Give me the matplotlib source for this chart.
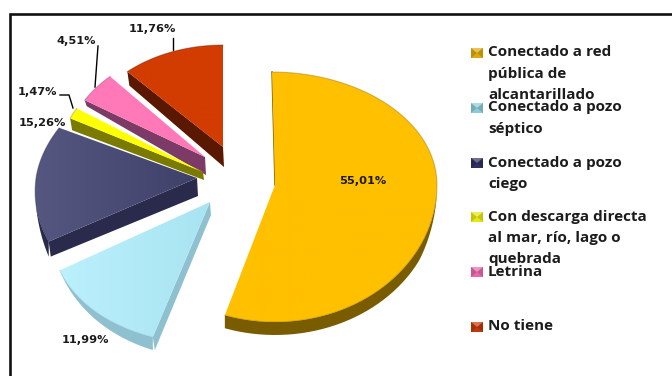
import numpy as np
import matplotlib
matplotlib.use('Agg')
import matplotlib.pyplot as plt
from matplotlib.colors import to_rgb
from matplotlib.patches import Polygon

# Share of dwellings by type of sanitary connection
categories = ['Conectado a red\npública de\nalcantarillado',
              'Conectado a pozo\nséptico',
              'Conectado a pozo\nciego',
              'Con descarga directa\nal mar, río, lago o\nquebrada',
              'Letrina',
              'No tiene']
values = [55.01, 11.99, 15.26, 1.47, 4.51, 11.76]
value_labels = ['55,01%', '11,99%', '15,26%', '1,47%', '4,51%', '11,76%']
# face colours run from the apex side to the far side of each slice
face_right = ['#ffc000', '#a9e4f2', '#3f4169', '#ffff00', '#ff78b8', '#d23c00']
face_left = ['#ffc000', '#bbf0fc', '#555781', '#ffff00', '#ff78b8', '#d23c00']
side_colors = ['#7a5c00', '#8fc0d0', '#2a2b4c', '#7a7a00', '#7c3a66', '#5a1800']
key_colors = ['#e0a810', '#8ccbd8', '#2f3160', '#e8e810', '#e868a8', '#c03808']

# apex x, apex y, a, a slope, b above centre, b below centre, depth at rim, depth at apex
slice_geom = [
    (275, 185, 162, 0, 113, 137, 13, 13),
    (210, 202, 158, 28, 140, 142, 13, 13),
    (197, 178, 161, 17, 114, 132, 15, 18),
    (203, 172, 148, 0, 122, 122, 12, 8),
    (205, 157, 141, 0, 109, 109, 6, 18),
    (223, 147, 142, 0, 102, 102, 14, 20),
]
# -cos(t) where the outer wall starts to show and where it reaches full depth
wall_fade = [(0.0, 0.45), (0.48, 0.95), (0.2, 0.48), None, None, None]
draw_order = [5, 4, 2, 3, 1, 0]

plt.rcParams['font.family'] = ['DejaVu Sans']

fig = plt.figure(figsize=(6.72, 3.76), dpi=100)
ax = fig.add_axes([0, 0, 1, 1])


def rim(geom, t):
    cx, cy, a, slope, b_up, b_down = geom[:6]
    c = np.cos(t)
    return cx + (a - slope * c) * np.sin(t), cy - np.where(c > 0, b_up, b_down) * c


edges = np.radians(np.concatenate([[0], np.cumsum(values)]) * 3.6)

for rank, i in enumerate(draw_order):
    geom = slice_geom[i]
    cx, cy, d_rim, d_apex = geom[0], geom[1], geom[6], geom[7]
    z = 2 + rank * 0.01
    t = np.linspace(edges[i], edges[i + 1], 80)
    x, y = rim(geom, t)
    if i == 0:
        # the big slice leans a little at the top
        x = x - 3 * np.clip(np.cos(t), 0, 1) ** 3
        ax.plot([x[0], cx], [y[0], cy], color=side_colors[i], lw=1.0, zorder=z)
    else:
        # cut face running from the rim in to the apex
        ax.add_patch(Polygon([(x[0], y[0]), (cx, cy), (cx + 1, cy + d_apex),
                              (x[0] + 2, y[0] + d_rim)],
                             fc=side_colors[i], ec='none', zorder=z))
    # outer wall, fading out where the rim turns away
    if wall_fade[i] is not None:
        lo, hi = wall_fade[i]
        depth = d_rim * np.clip((-np.cos(t) - lo) / (hi - lo), 0, 1)
        ax.add_patch(Polygon(np.r_[np.c_[x, y], np.c_[x, y + depth][::-1]],
                             fc=side_colors[i], ec='none', zorder=z))
    # top face with a soft left to right shade
    face = Polygon(np.r_[[(cx, cy)], np.c_[x, y]], fc='none', ec='none', zorder=z + 0.001)
    ax.add_patch(face)
    ramp = np.linspace(0, 1, 64)[None, :, None]
    grad = (1 - ramp) * np.array(to_rgb(face_left[i])) + ramp * np.array(to_rgb(face_right[i]))
    img = ax.imshow(grad, extent=(min(x.min(), cx), max(x.max(), cx), max(y.max(), cy), min(y.min(), cy)),
                    aspect='auto', zorder=z + 0.001, interpolation='bilinear')
    img.set_clip_path(face)
    ax.plot(x, y, color=side_colors[i], lw=0.8, alpha=0.35, zorder=z + 0.002)

ax.set_xlim(0, 672)
ax.set_ylim(376, 0)
ax.axis('off')

# frame, open along the bottom and right edges
ax.plot([10, 10, 672], [376, 14, 14], color='#111111', lw=1.9, solid_joinstyle='miter', zorder=5)

# value labels with their leader lines
label_pos = [(363, 181), (85, 340), (42, 123), (37, 92), (76, 41), (152, 29)]
for s, (lx, ly) in zip(value_labels, label_pos):
    ax.text(lx, ly, s, ha='center', va='center', fontsize=8.2, fontweight='bold',
            color='#1a1a1a', zorder=6)
ax.plot([60, 69, 73], [95, 95, 108], color='black', lw=1, zorder=6)
ax.plot([98, 95], [46, 87], color='black', lw=1, zorder=6)
ax.plot([173, 173], [38, 50], color='black', lw=1, zorder=6)

# legend keys drawn as small bevelled squares
key_y = [53, 108, 163, 217, 272, 327]
for y0, name, col in zip(key_y, categories, key_colors):
    ax.add_patch(Polygon([(471, y0 - 5), (483, y0 - 5), (483, y0 + 5), (471, y0 + 5)],
                         fc=col, ec='none', zorder=4))
    ax.add_patch(Polygon([(471, y0 - 5), (483, y0 - 5), (477, y0)],
                         fc='white', alpha=0.3, ec='none', zorder=4.1))
    ax.add_patch(Polygon([(471, y0 - 5), (471, y0 + 5), (477, y0)],
                         fc='black', alpha=0.15, ec='none', zorder=4.1))
    ax.add_patch(Polygon([(483, y0 - 5), (483, y0 + 5), (477, y0)],
                         fc='black', alpha=0.15, ec='none', zorder=4.1))
    ax.text(488, y0 - 7.5, name, ha='left', va='top', fontsize=11, fontweight='bold',
            family=['Open Sans', 'DejaVu Sans'], color='#1c1c1c',
            linespacing=1.66, zorder=6)

fig.savefig('out.png', dpi=100)
